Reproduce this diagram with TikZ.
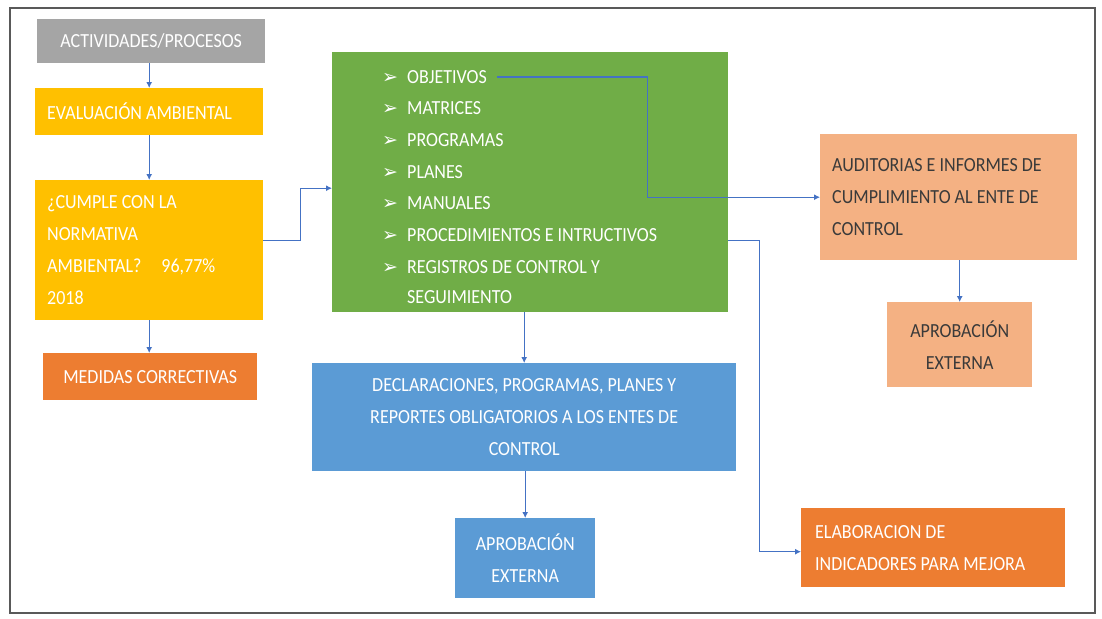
\documentclass[tikz,border=0pt]{standalone}
\usepackage{fontspec}
\setmainfont[FakeStretch=0.9]{Carlito}
\newfontfamily\symfont{DejaVu Sans}
\usetikzlibrary{arrows.meta,calc}
\definecolor{cgray}{HTML}{A5A5A5}
\definecolor{cyellow}{HTML}{FFC000}
\definecolor{corange}{HTML}{ED7D31}
\definecolor{cgreen}{HTML}{70AD47}
\definecolor{cblue}{HTML}{5B9BD5}
\definecolor{csalmon}{HTML}{F4B183}
\definecolor{lineblue}{HTML}{4472C4}
\definecolor{framecol}{HTML}{595959}
\definecolor{darktext}{HTML}{3A3A3A}
\newcommand{\bul}{\makebox[25pt][l]{\symfont\bfseries\fontsize{19}{18}\selectfont ➢}}
\begin{document}
\begin{tikzpicture}[x=1pt,y=-1pt,
  box/.style={draw=none, inner ysep=0pt, anchor=north west, text=white,
    font=\fontsize{20}{32}\selectfont},
  item/.style={anchor=west, inner sep=0pt, text=white, font=\fontsize{20}{22}\selectfont},
  arr/.style={draw=lineblue, line width=1.1pt, -{Latex[length=6pt,width=6pt]}}]
\useasboundingbox (0,0) rectangle (1102,618);
\fill[white] (0,0) rectangle (1102,618);
\draw[framecol, line width=1.5pt] (10,8) rectangle (1095,613);
% left column
\node[box, fill=cgray, inner xsep=0pt, text width=228pt, minimum height=44pt, align=flush center] (act) at (37,19) {ACTIVIDADES/PROCESOS};
\node[box, fill=cyellow, inner xsep=12pt, text width=204pt, minimum height=47pt, align=flush left] (eva) at (35,88) {EVALUACIÓN AMBIENTAL};
\node[box, fill=cyellow, inner xsep=12pt, text width=204pt, minimum height=140pt, align=flush left] (cum) at (35,180) {¿CUMPLE CON LA\\NORMATIVA\\AMBIENTAL?\quad 96,77\%\\2018};
\node[box, fill=corange, inner xsep=0pt, text width=214pt, minimum height=47pt, align=flush center] (med) at (43,353) {MEDIDAS CORRECTIVAS};
% green box
\node[box, fill=cgreen, inner xsep=0pt, text width=396pt, minimum height=260pt] (grn) at (332,52) {};
\node[item] (obj) at (382,77) {\bul OBJETIVOS};
\node[item] (mat) at (382,108) {\bul MATRICES};
\node[item] (pro) at (382,140) {\bul PROGRAMAS};
\node[item] (pla) at (382,172) {\bul PLANES};
\node[item] (man) at (382,203) {\bul MANUALES};
\node[item] (pci) at (382,235) {\bul PROCEDIMIENTOS E INTRUCTIVOS};
\node[item] (reg) at (382,267) {\bul REGISTROS DE CONTROL Y};
\node[item] (seg) at (407,297) {SEGUIMIENTO};
% blue
\node[box, fill=cblue, inner xsep=0pt, text width=424pt, minimum height=108pt, align=flush center] (dec) at (312,363) {DECLARACIONES, PROGRAMAS, PLANES Y\\REPORTES OBLIGATORIOS A LOS ENTES DE\\CONTROL};
\node[box, fill=cblue, inner xsep=0pt, text width=140pt, minimum height=80pt, align=flush center] (apb) at (455,518) {APROBACIÓN\\EXTERNA};
% right
\node[box, fill=csalmon, text=darktext, inner xsep=12pt, text width=233pt, minimum height=126pt, align=flush left] (aud) at (820,134) {AUDITORIAS E INFORMES DE\\CUMPLIMIENTO AL ENTE DE\\CONTROL};
\node[box, fill=csalmon, text=darktext, inner xsep=0pt, text width=145pt, minimum height=85pt, align=flush center] (aps) at (887,302) {APROBACIÓN\\EXTERNA};
\node[box, fill=corange, inner xsep=14pt, text width=236pt, minimum height=79pt, align=flush left] (ela) at (801,508) {ELABORACION DE\\INDICADORES PARA MEJORA};
% connectors
\draw[arr] (eva.north |- act.south) -- (eva.north);
\draw[arr] (eva.south) -- (cum.north);
\draw[arr] (cum.south) -- (cum.south |- med.north);
\draw[arr] ([yshift=10pt]cum.east) -- ++(37pt,0) |- ([yshift=-6pt]grn.west);
\draw[arr] ([xshift=10pt]obj.east) -- ++(150pt,0) |- (aud.west);
\draw[arr] ([yshift=-58pt]grn.east) -- ++(31pt,0) |- ([yshift=-4pt]ela.west);
\draw[arr] (dec.north |- grn.south) -- (dec.north);
\draw[arr] (apb.north |- dec.south) -- (apb.north);
\draw[arr] (aps.north |- aud.south) -- (aps.north);
\end{tikzpicture}
\end{document}
